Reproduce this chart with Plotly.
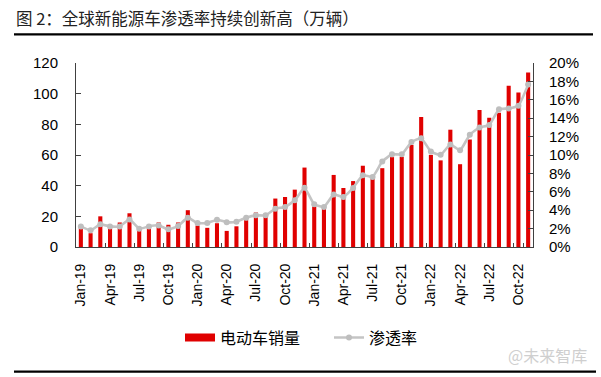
import plotly.graph_objects as go

# ---------------- data ----------------
months = [
    "Jan-19", "Feb-19", "Mar-19", "Apr-19", "May-19", "Jun-19", "Jul-19", "Aug-19", "Sep-19", "Oct-19", "Nov-19", "Dec-19",
    "Jan-20", "Feb-20", "Mar-20", "Apr-20", "May-20", "Jun-20", "Jul-20", "Aug-20", "Sep-20", "Oct-20", "Nov-20", "Dec-20",
    "Jan-21", "Feb-21", "Mar-21", "Apr-21", "May-21", "Jun-21", "Jul-21", "Aug-21", "Sep-21", "Oct-21", "Nov-21", "Dec-21",
    "Jan-22", "Feb-22", "Mar-22", "Apr-22", "May-22", "Jun-22", "Jul-22", "Aug-22", "Sep-22", "Oct-22", "Nov-22",
]
tick_labels = ["Jan-19", "Apr-19", "Jul-19", "Oct-19", "Jan-20", "Apr-20", "Jul-20", "Oct-20",
               "Jan-21", "Apr-21", "Jul-21", "Oct-21", "Jan-22", "Apr-22", "Jul-22", "Oct-22"]

ev_sales = [  # 万辆
    14.0, 9.0, 20.0, 14.0, 16.0, 22.0, 12.0, 13.5, 16.0, 14.5, 16.0, 24.0,
    14.0, 12.5, 15.5, 10.5, 13.5, 17.5, 22.5, 20.0, 31.6, 32.6, 37.4, 51.8,
    26.5, 25.0, 47.0, 38.5, 43.0, 53.0, 44.6, 51.4, 58.6, 58.8, 66.6, 84.8,
    60.1, 56.5, 76.5, 54.0, 70.1, 89.3, 84.3, 87.6, 105.1, 100.7, 113.8,
]
penetration = [  # %
    2.24, 1.81, 2.46, 2.24, 2.24, 3.00, 1.99, 2.24, 2.35, 1.92, 2.28, 3.19,
    2.60, 2.60, 2.97, 2.70, 2.75, 3.19, 3.44, 3.44, 4.17, 4.35, 5.08, 6.44,
    4.64, 4.35, 5.70, 5.44, 6.42, 7.80, 7.62, 9.30, 10.07, 10.07, 11.40, 11.83,
    10.37, 10.02, 11.14, 10.52, 12.20, 13.00, 13.25, 14.97, 15.06, 15.35, 17.65,
]

bar_name = "电动车销量"
line_name = "渗透率"
title_text = "图\u00a02：全球新能源车渗透率持续创新高（万辆）"
watermark = "@未来智库"

# ---------------- layout geometry (pixels) ----------------
W, H = 601, 377
L, R, T, B = 76, 533, 63, 246.6


def px_x(x):
    return (x - L) / (R - L)


def px_y(y):
    return (B - y) / (B - T)


FONT = "Liberation Sans, Arial, Noto Sans CJK SC, sans-serif"
CJK = "Noto Sans CJK SC, Liberation Sans, sans-serif"
RED = "#E00000"
GREY = "#C4C4C4"

fig = go.Figure()
fig.add_trace(go.Bar(
    x=months, y=ev_sales, name=bar_name, marker=dict(color=RED, line=dict(width=0)),
    showlegend=False, yaxis="y",
))
# legend proxy for the bar series (wide red band as in the reference)
fig.add_trace(go.Scatter(
    x=[None], y=[None], mode="lines", name=bar_name,
    line=dict(color=RED, width=8), showlegend=True,
))
fig.add_trace(go.Scatter(
    x=months, y=penetration, name=line_name, mode="lines+markers", yaxis="y2",
    line=dict(color=GREY, width=2.6, shape="spline", smoothing=0.4),
    marker=dict(color="#BEBEBE", size=6, symbol="circle"),
))

axis_col = "#404040"
fig.update_layout(
    width=W, height=H,
    margin=dict(l=L, r=W - R, t=T, b=H - B, autoexpand=False),
    paper_bgcolor="white", plot_bgcolor="white",
    font=dict(family=FONT, size=15, color="#000000"),
    bargap=0.58,
    showlegend=True,
    legend=dict(
        orientation="h", x=px_x(180), y=px_y(337), xanchor="left", yanchor="middle",
        font=dict(family=CJK, size=16, color="#000000"),
        bgcolor="rgba(0,0,0,0)", itemwidth=30, traceorder="normal",
        entrywidth=104, entrywidthmode="pixels",
    ),
    xaxis=dict(
        type="category", categoryorder="array", categoryarray=months,
        tickmode="array", tickvals=tick_labels, ticktext=tick_labels,
        tickangle=-90, tickson="boundaries", ticks="inside", ticklen=4, tickcolor=axis_col,
        showline=True, linecolor=axis_col, linewidth=1, showgrid=False, zeroline=False,
        tickfont=dict(size=14, family=FONT), ticklabelstandoff=10,
        range=[-0.5, len(months) - 0.5],
    ),
    yaxis=dict(
        range=[0, 120], dtick=20, tick0=0, ticks="inside", ticklen=5, tickcolor=axis_col,
        showline=True, linecolor=axis_col, linewidth=1, showgrid=False, zeroline=False,
        tickfont=dict(size=15, family=FONT), ticklabelstandoff=14,
    ),
    yaxis2=dict(
        range=[0, 20], dtick=2, tick0=0, ticksuffix="%", overlaying="y", side="right",
        ticks="inside", ticklen=5, tickcolor=axis_col,
        showline=True, linecolor=axis_col, linewidth=1, showgrid=False, zeroline=False,
        tickfont=dict(size=15, family=FONT), ticklabelstandoff=12,
    ),
)

# title and frame lines
fig.add_annotation(
    xref="paper", yref="paper", x=px_x(14), y=px_y(18), xanchor="left", yanchor="middle",
    text=title_text, showarrow=False, font=dict(family=CJK, size=16.5, color="#222222"),
)
fig.add_shape(type="line", xref="paper", yref="paper", x0=px_x(14), x1=px_x(593),
              y0=px_y(34.5), y1=px_y(34.5), line=dict(color="#000000", width=2.2))
fig.add_shape(type="line", xref="paper", yref="paper", x0=px_x(14), x1=px_x(596),
              y0=px_y(371), y1=px_y(371), line=dict(color="#000000", width=2.2))
fig.add_annotation(
    xref="paper", yref="paper", x=px_x(589), y=px_y(354), xanchor="right", yanchor="middle",
    text=watermark, showarrow=False, font=dict(family=CJK, size=16, color="#CFCFCF"),
)

fig.write_html(
    "out.html",
    config={"displayModeBar": False},
    post_script="document.body.style.margin='0';document.body.style.padding='0';",
)
